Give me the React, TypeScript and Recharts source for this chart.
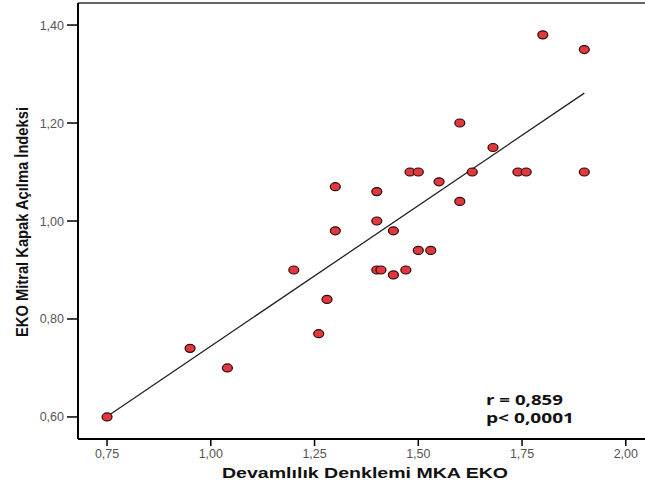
import { ScatterChart, Scatter, XAxis, YAxis, ReferenceLine } from 'recharts';

// Devamlılık Denklemi MKA EKO (x) vs EKO Mitral Kapak Açılma İndeksi (y)
const mkaEko = [
  0.75, 0.95, 1.04, 1.2, 1.26, 1.28, 1.3, 1.3, 1.4, 1.4, 1.4, 1.41, 1.44, 1.44, 1.47,
  1.48, 1.5, 1.5, 1.53, 1.55, 1.6, 1.6, 1.63, 1.68, 1.74, 1.76, 1.8, 1.9, 1.9,
];
const acilmaIndeksi = [
  0.6, 0.74, 0.7, 0.9, 0.77, 0.84, 1.07, 0.98, 1.06, 1.0, 0.9, 0.9, 0.98, 0.89, 0.9,
  1.1, 1.1, 0.94, 0.94, 1.08, 1.2, 1.04, 1.1, 1.15, 1.1, 1.1, 1.38, 1.35, 1.1,
];

// regression line end points
const fitX = [0.75, 1.9];
const fitY = [0.601, 1.261];

const xTicks = [0.75, 1.0, 1.25, 1.5, 1.75, 2.0];
const yTicks = [0.6, 0.8, 1.0, 1.2, 1.4];
const xDomain = [0.68, 2.08];
const yDomain = [0.555, 1.445];

const data = mkaEko.map((x, i) => ({ x, y: acilmaIndeksi[i] }));

const fmt = (v: number) => v.toFixed(2).replace('.', ',');

const TICK_FONT = '"Liberation Sans", Arial, sans-serif';

function XTick(props: any) {
  const { x, y, payload } = props;
  return (
    <text x={x} y={y} dy={9} textAnchor="middle" fill="#555" fontSize={12.5} fontFamily={TICK_FONT}>
      {fmt(payload.value)}
    </text>
  );
}

function YTick(props: any) {
  const { x, y, payload } = props;
  return (
    <text x={x} y={y} dy={4.5} textAnchor="end" fill="#555" fontSize={12.5} fontFamily={TICK_FONT}>
      {fmt(payload.value)}
    </text>
  );
}

function Dot(props: any) {
  const { cx, cy } = props;
  return <ellipse cx={cx} cy={cy} rx={5} ry={4} fill="#e2383d" stroke="#2a0808" strokeWidth={1.2} />;
}

export default function App() {
  return (
    <div style={{ position: 'absolute', left: 0, top: 0, width: 645, height: 486, overflow: 'hidden', background: '#fff' }}>
      <ScatterChart width={680} height={486} margin={{ top: 3, right: 21, bottom: 0, left: 0 }}>
        <XAxis
          type="number"
          dataKey="x"
          domain={xDomain}
          ticks={xTicks}
          height={47}
          tickSize={7}
          tickMargin={3}
          tick={<XTick />}
          axisLine={{ stroke: '#000', strokeWidth: 2 }}
          tickLine={{ stroke: '#000', strokeWidth: 1.5 }}
          allowDataOverflow
        />
        <YAxis
          type="number"
          dataKey="y"
          domain={yDomain}
          ticks={yTicks}
          width={78}
          tickSize={11}
          tickMargin={3}
          tick={<YTick />}
          axisLine={{ stroke: '#000', strokeWidth: 2 }}
          tickLine={{ stroke: '#000', strokeWidth: 1.5 }}
          allowDataOverflow
        />
        <ReferenceLine y={yDomain[1]} stroke="#666" strokeWidth={2} />
        <ReferenceLine
          segment={[{ x: fitX[0], y: fitY[0] }, { x: fitX[1], y: fitY[1] }]}
          stroke="#222"
          strokeWidth={1.3}
        />
        <Scatter data={data} shape={<Dot />} isAnimationActive={false} />
      </ScatterChart>
      <svg width={645} height={486} style={{ position: 'absolute', left: 0, top: 0, pointerEvents: 'none' }}>
        <text
          x={222}
          y={478}
          textLength={286}
          lengthAdjust="spacingAndGlyphs"
          fontFamily={TICK_FONT}
          fontWeight="bold"
          fontSize={15}
          fill="#111"
        >
          Devamlılık Denklemi MKA EKO
        </text>
        <text
          transform="translate(28,222) rotate(-90)"
          textAnchor="middle"
          textLength={230}
          lengthAdjust="spacingAndGlyphs"
          fontFamily={TICK_FONT}
          fontWeight="bold"
          fontSize={16.5}
          fill="#111"
        >
          EKO Mitral Kapak Açılma İndeksi
        </text>
        <text x={486} y={405} textLength={77} lengthAdjust="spacingAndGlyphs" fontFamily='"Open Sans", sans-serif' fontWeight="bold" fontSize={14.5} fill="#111">
          r = 0,859
        </text>
        <text x={486} y={423} textLength={88} lengthAdjust="spacingAndGlyphs" fontFamily='"Open Sans", sans-serif' fontWeight="bold" fontSize={14.5} fill="#111">
          p&lt; 0,0001
        </text>
      </svg>
    </div>
  );
}
